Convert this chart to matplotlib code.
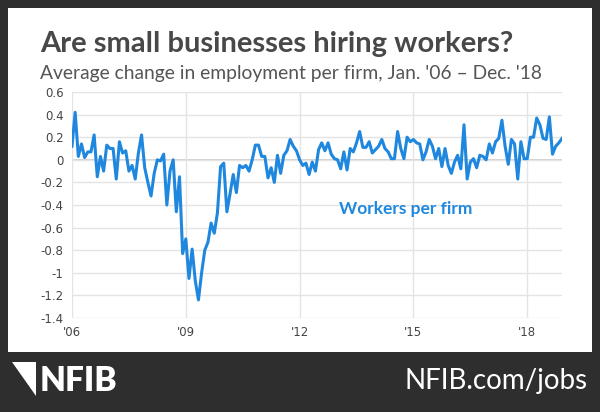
import matplotlib
matplotlib.use("Agg")
import matplotlib.pyplot as plt
import numpy as np
from matplotlib.patches import Rectangle, Polygon

part1 = [0.12,0.42,0.03,0.14,0.02,0.07,0.07,0.22,-0.15,0.03,-0.1,0.13,0.1,0.1,-0.17,0.16,0.06,0.08,-0.1,-0.05,-0.17,0.06,0.22,-0.07,-0.2,-0.32,-0.12,0.0,-0.01,0.05,-0.4,-0.1,0.0,-0.46,-0.15,-0.83,-0.7,-1.05,-0.79,-1.07,-1.24,-1.0,-0.8,-0.73,-0.56,-0.65,-0.47,-0.06,-0.03]
part2 = [-0.46,-0.3,-0.13,-0.29,-0.05,-0.07,-0.05,-0.1,0.0,0.13,0.13,0.03,0.03,-0.16,-0.07,-0.2,0.04,-0.12,0.04,0.08,0.18,0.12,0.08,0.0,-0.05,-0.03,-0.13,-0.02,-0.1,0.09,0.15,0.08,0.15,0.05,0.01,0.0,-0.08,0.07,-0.09,0.1,0.07,0.15,0.25,0.11,0.11,0.16,0.06,0.09,0.12,0.18]
part3 = [0.1,0.07,0.01,0.01,0.25,0.1,0.01,0.2,0.16,0.18,0.15,0.14,0.0,0.07,0.18,0.12,0.01,0.1,-0.06,0.1,-0.05,-0.12,-0.02,0.04,-0.08,0.31,-0.17,-0.02,0.01,-0.07,0.04,0.03,0.0,0.14,0.06,0.16,0.19,0.35,0.12,-0.04,0.18,0.14,-0.17,0.16,0.01,0.01,0.2,0.2,0.37,0.31,0.19,0.18,0.38,0.05,0.12,0.15,0.19]
values = part1 + part2 + part3
n = len(values)
months = np.arange(156 - n, 156)
xtick_pos = [0, 36, 72, 108, 144]
xtick_labels = ["'06", "'09", "'12", "'15", "'18"]
yticks = [0.6, 0.4, 0.2, 0, -0.2, -0.4, -0.6, -0.8, -1, -1.2, -1.4]

fig = plt.figure(figsize=(6, 4.12), dpi=100)
fig.patch.set_facecolor('#2e2e2e')
fig.add_artist(Rectangle((8/600, 1-352/412), 584/600, 344/412, transform=fig.transFigure,
                         facecolor='white', edgecolor='none', zorder=0))
ax = fig.add_axes([72/600, 1-318/412, 490/600, 226/412])
ax.plot(months, values, color='#1f88de', lw=2.2)
ax.set_xlim(0, 155)
ax.set_ylim(-1.4, 0.6)
ax.set_yticks(yticks)
ax.set_yticklabels([("%g" % v) for v in yticks])
ax.set_xticks(xtick_pos)
ax.set_xticklabels(xtick_labels)
ax.grid(True, color='#e4e4e4', lw=1)
ax.axhline(0, color='#c8c8c8', lw=1.2, zorder=1)
for s in ax.spines.values():
    s.set_visible(False)
ax.tick_params(length=0, labelsize=8.5, colors='#444444', pad=6)
ax.text(0.545, 0.46, "Workers per firm", transform=ax.transAxes, color='#1f88de',
        fontsize=12.5, fontweight='bold', family='Lato')
fig.text(40/600, 1-44/412, "Are small businesses hiring workers?", fontsize=21,
         fontweight='bold', color='#484848', va='center', family='Lato')
fig.text(40/600, 1-73/412, "Average change in employment per firm, Jan. '06 – Dec. '18",
         fontsize=13.9, color='#555555', va='center', family='Lato')
# logo
fig.add_artist(Polygon([(12/600, 1-362/412), (36/600, 1-362/412), (36/600, 1-396/412), (12/600, 1-396/412)],
                       closed=True, transform=fig.transFigure, facecolor='white', edgecolor='none'))
fig.add_artist(Polygon([(12/600, 1-362/412), (36/600, 1-396/412), (12/600, 1-396/412)],
                       closed=True, transform=fig.transFigure, facecolor='#2e2e2e', edgecolor='none'))
fig.text(40/600, 1-381/412, "NFIB", fontsize=24, fontweight='heavy', color='white', va='center', family='Lato')
fig.text(588/600, 1-381/412, "NFIB.com/jobs", fontsize=20, color='white', va='center', ha='right', family='Lato')
fig.savefig("out.png", dpi=100, facecolor=fig.get_facecolor())
